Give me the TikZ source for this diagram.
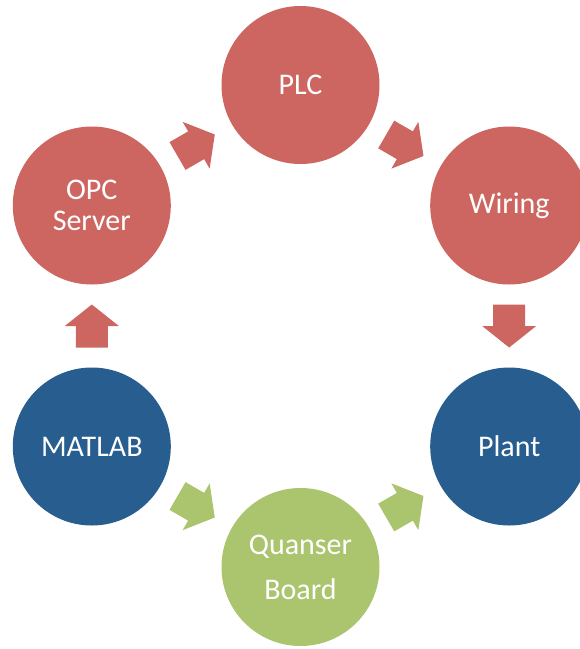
\documentclass[tikz,border=0pt]{standalone}
\usepackage{fontspec}
\setmainfont{Carlito}
\usetikzlibrary{calc}
\definecolor{redc}{RGB}{205,102,96}
\definecolor{bluec}{RGB}{39,93,143}
\definecolor{greenc}{RGB}{171,196,110}
\tikzset{
  stage/.style={circle, minimum size=158pt, inner sep=0pt, text=white, align=center,
    font=\fontsize{30}{30.6}\selectfont},
  blockarrow/.pic={\fill (-21.5,-16) -- (0,-16) -- (0,-27) -- (21.5,0) -- (0,27) -- (0,16) -- (-21.5,16) -- cycle;}
}
\begin{document}
\begin{tikzpicture}[x=1pt,y=-1pt]
\clip (0,0) rectangle (580,649);
\fill[white] (0,0) rectangle (580,649);
\node[stage, fill=redc] (plc) at (300.5,85) {PLC};
\node[stage, fill=redc] (opc) at (91.8,205.5) {OPC\\Server};
\node[stage, fill=redc] (wir) at (509.2,205.5) {Wiring};
\node[stage, fill=bluec] (mat) at (91.8,446.5) {MATLAB};
\node[stage, fill=bluec] (pla) at (509.2,446.5) {Plant};
\node[stage, fill=greenc] (qua) at (300.5,567) {Quanser\\[14.4pt]Board};
\pic[redc, rotate=90] at ($(mat)!0.5!(opc)$) {blockarrow};
\pic[redc, rotate=30] at ($(opc)!0.5!(plc)$) {blockarrow};
\pic[redc, rotate=-30] at ($(plc)!0.5!(wir)$) {blockarrow};
\pic[redc, rotate=-90] at ($(wir)!0.5!(pla)$) {blockarrow};
\pic[greenc, rotate=-30] at ($(mat)!0.5!(qua)$) {blockarrow};
\pic[greenc, rotate=30] at ($(qua)!0.5!(pla)$) {blockarrow};
\end{tikzpicture}
\end{document}
